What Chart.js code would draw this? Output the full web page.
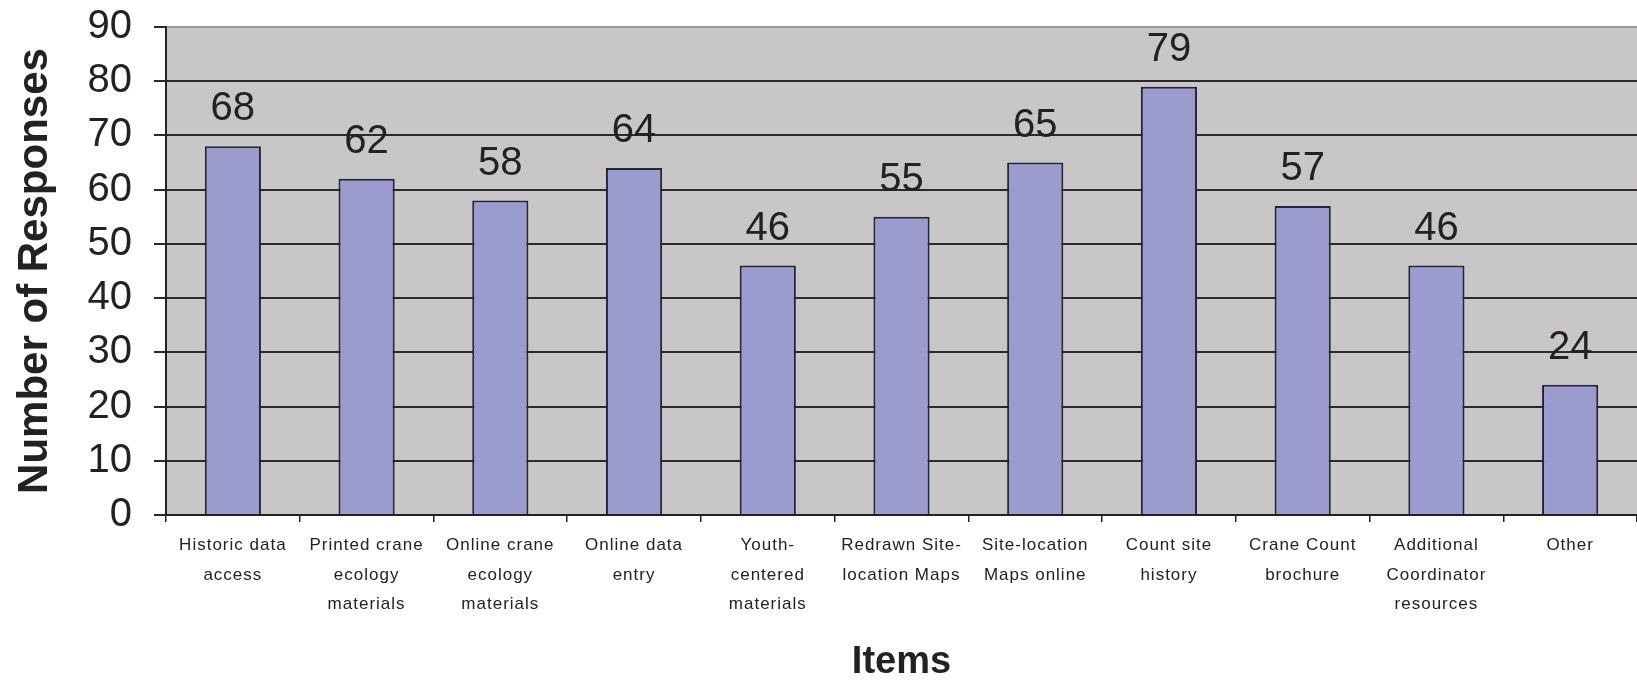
<!DOCTYPE html>
<html>
<head>
<meta charset="utf-8">
<title>Number of Responses by Item</title>
<script src="https://cdn.jsdelivr.net/npm/chart.js@4/dist/chart.umd.min.js"></script>
<style>
  html, body { margin: 0; padding: 0; background: #ffffff; }
  #wrap { width: 1637px; height: 684px; }
</style>
</head>
<body>
<div id="wrap"><canvas id="c" width="1637" height="684"></canvas></div>
<script>
// Survey items (multi-line category labels)
const items = [
  ["Historic data", "access"],
  ["Printed crane", "ecology", "materials"],
  ["Online crane", "ecology", "materials"],
  ["Online data", "entry"],
  ["Youth-", "centered", "materials"],
  ["Redrawn Site-", "location Maps"],
  ["Site-location", "Maps online"],
  ["Count site", "history"],
  ["Crane Count", "brochure"],
  ["Additional", "Coordinator", "resources"],
  ["Other"]
];

// Number of responses per item
const responses = [68, 62, 58, 64, 46, 55, 65, 79, 57, 46, 24];

// Value axis range
const yMin = 0;
const yMax = 90;
const yStep = 10;

const FONT = "'Liberation Sans', Arial, Helvetica, sans-serif";

// Grey plot-area fill behind the bars
const plotBackground = {
  id: 'plotBackground',
  beforeDraw(chart) {
    const { ctx, chartArea: a } = chart;
    ctx.save();
    ctx.fillStyle = '#c8c6c7';
    ctx.fillRect(a.left, a.top, a.right - a.left, a.bottom - a.top);
    ctx.restore();
  }
};

// Value labels above each bar
const valueLabels = {
  id: 'valueLabels',
  afterDatasetsDraw(chart) {
    const { ctx } = chart;
    const meta = chart.getDatasetMeta(0);
    const data = chart.data.datasets[0].data;
    ctx.save();
    ctx.font = '40px ' + FONT;
    ctx.fillStyle = '#222222';
    ctx.textAlign = 'center';
    ctx.textBaseline = 'alphabetic';
    meta.data.forEach((bar, i) => {
      ctx.fillText(String(data[i]), bar.x, bar.y - 26);
    });
    ctx.restore();
    // the category labels are drawn after the bars with a little tracking
    ctx.letterSpacing = '1px';
  },
  afterDraw(chart) {
    chart.ctx.letterSpacing = '0px';
  }
};

new Chart(document.getElementById('c'), {
  type: 'bar',
  data: {
    labels: items,
    datasets: [{
      data: responses,
      backgroundColor: '#9b9bcd',
      borderColor: '#23233a',
      borderWidth: 2,
      categoryPercentage: 1.0,
      barPercentage: 0.42
    }]
  },
  options: {
    responsive: false,
    animation: false,
    events: [],
    layout: { padding: { top: 27, right: 0, bottom: 0, left: 0 } },
    plugins: {
      legend: { display: false },
      tooltip: { enabled: false },
      title: { display: false }
    },
    scales: {
      x: {
        offset: true,
        grid: {
          offset: true,
          drawOnChartArea: false,
          drawTicks: true,
          tickLength: 7,
          color: '#222222',
          lineWidth: 1.5,
          z: -1
        },
        border: { display: true, color: '#222222', width: 2, z: 1 },
        ticks: {
          autoSkip: false,
          maxRotation: 0,
          minRotation: 0,
          padding: 9,
          color: '#222222',
          font: { family: FONT, size: 17, lineHeight: 1.72 },
          z: 1
        },
        title: {
          display: true,
          text: 'Items',
          color: '#222222',
          font: { family: FONT, size: 38, weight: 'bold', lineHeight: 1.2 },
          padding: { top: 0, bottom: -1 }
        },
        afterFit(scale) {
          scale.height = 169;
          scale.paddingLeft = 0;
          scale.paddingRight = 0;
        }
      },
      y: {
        min: yMin,
        max: yMax,
        grid: {
          drawTicks: true,
          tickLength: 12,
          lineWidth: 2,
          color: (c) => (c.tick && c.tick.value === yMax ? '#9d9b9c' : '#2a2a2a'),
          tickColor: '#2a2a2a'
        },
        border: { display: true, color: '#222222', width: 2 },
        ticks: {
          stepSize: yStep,
          padding: 22,
          color: '#222222',
          font: { family: FONT, size: 40 }
        },
        title: {
          display: true,
          text: 'Number of Responses',
          color: '#222222',
          font: { family: FONT, size: 42, weight: 'bold', lineHeight: 1.2 },
          padding: { top: 10, bottom: 0 }
        },
        afterFit(scale) {
          scale.width = 166;
          scale.paddingTop = 0;
          scale.paddingBottom = 0;
        }
      }
    }
  },
  plugins: [plotBackground, valueLabels]
});
</script>
</body>
</html>
